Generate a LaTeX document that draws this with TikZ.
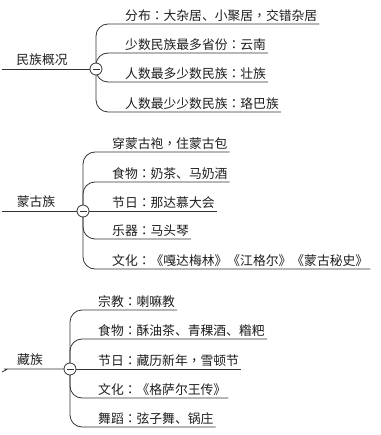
\documentclass[tikz,border=0pt]{standalone}
\usepackage{fontspec}
\newfontfamily\cjk{Noto Sans CJK SC}
\newfontfamily\cjkmid{Noto Sans CJK TC}
\newcommand{\pu}[1]{{\cjkmid #1}}
\usetikzlibrary{backgrounds}
\definecolor{linegray}{HTML}{333333}
\definecolor{txtgray}{HTML}{1E1E1E}
\tikzset{
    topic/.style={anchor=south, inner xsep=0pt, inner ysep=2pt, text=txtgray,
        font=\cjk\fontsize{12.8}{15}\selectfont},
    item/.style={anchor=south west, inner xsep=2pt, inner ysep=2pt, text=txtgray,
        font=\cjk\fontsize{12.8}{15}\selectfont},
    fold/.style={circle, draw=linegray, line width=0.8pt, fill=white, minimum size=12pt, inner sep=0pt,
        path picture={\draw[linegray, line width=0.8pt] ([xshift=-3.5pt]path picture bounding box.center) -- ([xshift=3.5pt]path picture bounding box.center);}},
    branch/.style={draw=linegray, line width=0.8pt, rounded corners=12pt},
}
\begin{document}
\begin{tikzpicture}[x=1pt, y=-1pt]
    \useasboundingbox (0,0) rectangle (380,435);
    % 民族概况
    \begin{scope}[shift={(0,69)}]
        \node[topic] (r1) at (42,-1) {民族概况};
        \coordinate (s1) at (2,0);
        \node[fold] (m1) at (96,0) {};
        \node[item] (a1) at (123,-45) {分布\pu{：}大杂居、小聚居\pu{，}交错杂居};
        \node[item] (a2) at (123,-16) {少数民族最多省份\pu{：}云南};
        \node[item] (a3) at (123,13) {人数最多少数民族\pu{：}壮族};
        \node[item] (a4) at (123,43) {人数最少少数民族\pu{：}珞巴族};
        \begin{scope}[on background layer]
            \draw[branch] (s1) -- (m1.center);
            \foreach \i in {1,...,4}
                \draw[branch] (m1.center) |- (a\i.south east);
        \end{scope}
    \end{scope}
    % 蒙古族
    \begin{scope}[shift={(0,211)}]
        \node[topic] (r2) at (36,-1) {蒙古族};
        \coordinate (s2) at (2,0);
        \node[fold] (m2) at (83,0) {};
        \node[item] (b1) at (110,-59) {穿蒙古袍\pu{，}住蒙古包};
        \node[item] (b2) at (110,-29) {食物\pu{：}奶茶、马奶酒};
        \node[item] (b3) at (110,0) {节日\pu{：}那达慕大会};
        \node[item] (b4) at (110,28) {乐器\pu{：}马头琴};
        \node[item] (b5) at (110,58) {文化\pu{：}《嘎达梅林》《江格尔》《蒙古秘史》};
        \begin{scope}[on background layer]
            \draw[branch] (s2) -- (m2.center);
            \draw[branch] (m2.center) -- (b3.south east);
            \foreach \i in {1,2,4,5}
                \draw[branch] (m2.center) |- (b\i.south east);
        \end{scope}
    \end{scope}
    % 藏族
    \begin{scope}[shift={(0,369)}]
        \node[topic] (r3) at (30,-1) {藏族};
        \coordinate (s3) at (2,3);
        \node[fold] (m3) at (70,0) {};
        \node[item] (c1) at (96,-59) {宗教\pu{：}喇嘛教};
        \node[item] (c2) at (96,-30) {食物\pu{：}酥油茶、青稞酒、糌粑};
        \node[item] (c3) at (96,0) {节日\pu{：}藏历新年\pu{，}雪顿节};
        \node[item] (c4) at (96,29) {文化\pu{：}《格萨尔王传》};
        \node[item] (c5) at (96,58) {舞蹈\pu{：}弦子舞、锅庄};
        \begin{scope}[on background layer]
            \draw[branch] (s3) .. controls (8,0) .. (16,0) -- (m3.center);
            \draw[branch] (m3.center) -- (c3.south east);
            \foreach \i in {1,2,4,5}
                \draw[branch] (m3.center) |- (c\i.south east);
        \end{scope}
    \end{scope}
\end{tikzpicture}
\end{document}
